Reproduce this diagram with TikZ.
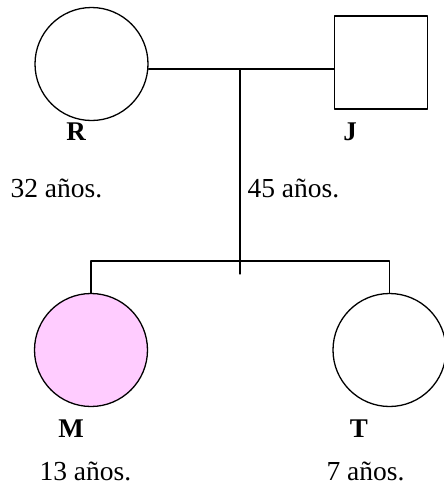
\documentclass[tikz,border=0pt]{standalone}
\usepackage{fontspec}
\setmainfont{Liberation Serif}
\usepackage{xcolor}
\usepackage{tikz}
\usetikzlibrary{positioning}
\definecolor{affected}{HTML}{FFCCFF}
\tikzset{
  line/.style={line width=1.3pt},
  female/.style={draw, line, circle, minimum size=113pt, inner sep=0pt},
  male/.style={draw, line, rectangle, minimum size=93pt, inner sep=0pt},
  tag/.style={font=\fontsize{27}{30}\selectfont\bfseries, anchor=base},
  age/.style={font=\fontsize{27.5}{30}\selectfont, anchor=base west}
}

\begin{document}
\begin{tikzpicture}[x=1pt, y=-1pt, line cap=round, line join=round]
  \useasboundingbox (0,0) rectangle (444,488);

  % parents
  \node[female] (R) at (91.5,64) {};
  \node[male] (J) at (381,62.5) {};
  \coordinate (mate) at (240,69);
  \draw[line] (mate -| R.east) -- (mate -| J.west);

  % children
  \node[female, fill=affected] (M) at (91,350) {};
  \node[female] (T) at (389.5,350) {};
  \coordinate (sib) at (240,261);
  \coordinate (drop) at (240,274);
  \draw[line] (mate) -- (drop);
  \draw[line] (M.north) -- (M.north |- sib) -- (T.north |- sib) -- (T.north);

  % names and ages
  \node[tag] (Rname) at (76,140) {R};
  \node[tag] (Jname) at (350,140) {J};
  \node[tag] (Mname) at (71,437) {M};
  \node[tag] (Tname) at (359,437) {T};
  \node[age] (Rage) at (7,197) {32 años.};
  \node[age] (Jage) at (244,197) {45 años.};
  \node[age] (Mage) at (36,480) {13 años.};
  \node[age] (Tage) at (323,480) {7 años.};
\end{tikzpicture}
\end{document}
